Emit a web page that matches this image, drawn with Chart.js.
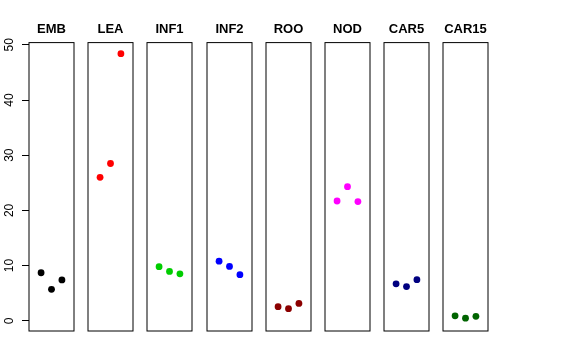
<!DOCTYPE html>
<html>
<head>
<meta charset="utf-8">
<script src="https://cdn.jsdelivr.net/npm/chart.js@4"></script>
<style>
  body { margin: 0; background: #fff; }
  #wrap { position: relative; width: 576px; height: 360px; background: #fff; }
  #wrap canvas { position: absolute; top: 0; }
  #err { position: absolute; top: 0; left: 100px; font: 10px monospace; color: red; width: 470px; }
</style>
</head>
<body>
<div id="wrap"></div>
<div id="err"></div>
<script>
const panels = ['EMB', 'LEA', 'INF1', 'INF2', 'ROO', 'NOD', 'CAR5', 'CAR15'];
const colors = ['#000000', '#FF0000', '#00CD00', '#0000FF', '#8B0000', '#FF00FF', '#000080', '#006400'];
const xPos = [1, 2, 3];
const EMB = [8.7, 5.7, 7.4];
const LEA = [26.0, 28.5, 48.4];
const INF1 = [9.8, 8.95, 8.5];
const INF2 = [10.8, 9.85, 8.35];
const ROO = [2.55, 2.2, 3.15];
const NOD = [21.7, 24.3, 21.6];
const CAR5 = [6.7, 6.2, 7.45];
const CAR15 = [0.9, 0.47, 0.8];
const values = [EMB, LEA, INF1, INF2, ROO, NOD, CAR5, CAR15];
const yTicks = [0, 10, 20, 30, 40, 50];

const wrap = document.getElementById('wrap');
const boxLeft0 = 29, boxStep = 59.2, boxW = 44.6, pad = 8;

const boxPlugin = {
  id: 'box',
  afterDraw(chart) {
    const a = chart.chartArea, c = chart.ctx;
    c.save();
    c.strokeStyle = '#000';
    c.lineWidth = 1;
    c.strokeRect(a.left, a.top, a.right - a.left, a.bottom - a.top);
    c.restore();
  }
};

const yLabelPlugin = {
  id: 'ylabels',
  afterDraw(chart) {
    const s = chart.scales.y, c = chart.ctx;
    if (!s.options.display) return;
    c.save();
    c.fillStyle = '#000';
    c.font = '12px "Liberation Sans", Arial, sans-serif';
    c.textAlign = 'center';
    c.textBaseline = 'middle';
    s.ticks.forEach(t => {
      const y = s.getPixelForValue(t.value);
      c.save();
      c.translate(9.5, y);
      c.rotate(-Math.PI / 2);
      c.fillText(String(t.value), 0, 0);
      c.restore();
    });
    c.restore();
  }
};

panels.forEach((name, i) => {
  try {
    const first = i === 0;
    const left = boxLeft0 + i * boxStep;
    const canvas = document.createElement('canvas');
    const cw = Math.round(first ? left + boxW + pad : boxW + 2 * pad);
    canvas.width = cw;
    canvas.height = 360;
    canvas.style.width = cw + 'px';
    canvas.style.height = '360px';
    canvas.style.left = Math.round(first ? 0 : left - pad) + 'px';
    wrap.appendChild(canvas);

    new Chart(canvas, {
      type: 'scatter',
      data: {
        datasets: [{
          data: xPos.map((x, j) => ({ x: x, y: values[i][j] })),
          backgroundColor: colors[i],
          borderColor: colors[i],
          pointRadius: 3.4,
          borderWidth: 0
        }]
      },
      options: {
        responsive: false,
        animation: false,
        layout: { padding: { left: first ? 0 : pad, right: pad, top: 22, bottom: 29 } },
        plugins: {
          legend: { display: false },
          tooltip: { enabled: false },
          title: {
            display: true,
            text: name,
            fullSize: false,
            color: '#000',
            font: { family: '"Liberation Sans", Arial, sans-serif', size: 13, weight: 'bold', lineHeight: 1.2 },
            padding: { top: 0, bottom: 5 }
          }
        },
        scales: {
          x: { type: 'linear', min: -0.16, max: 4.16, display: false },
          y: {
            type: 'linear',
            min: -1.85,
            max: 50.4,
            display: first,
            afterBuildTicks: s => { s.ticks = yTicks.map(v => ({ value: v })); },
            afterFit: s => { if (first) s.width = left; },
            border: { display: false },
            grid: { drawOnChartArea: false, drawTicks: true, tickLength: 7, color: '#000', lineWidth: 1 },
            ticks: { display: false }
          }
        }
      },
      plugins: [boxPlugin, yLabelPlugin]
    });
  } catch (e) {
    document.getElementById('err').textContent += name + ': ' + e.message + ' ';
  }
});
</script>
</body>
</html>
